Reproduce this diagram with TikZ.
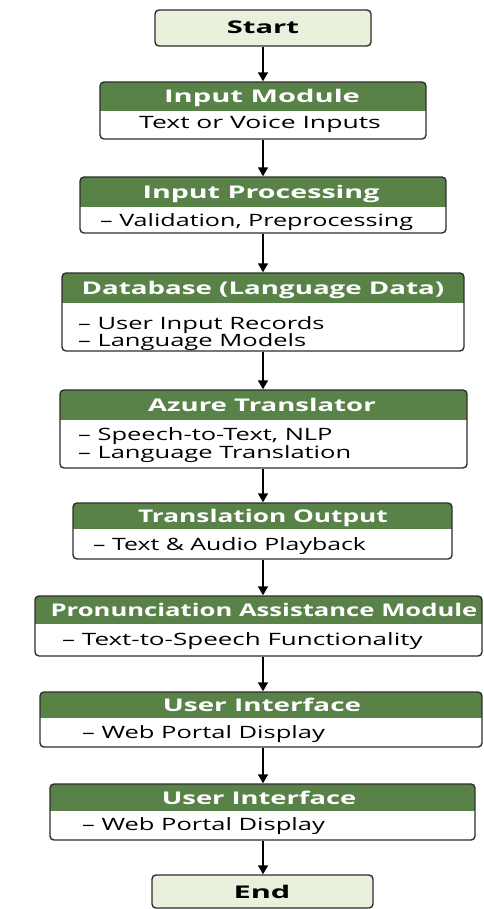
\documentclass[tikz,border=0pt]{standalone}
\usepackage{fontspec}
\setmainfont{Open Sans}[FakeStretch=1.5]
\usetikzlibrary{arrows.meta,fit}
\definecolor{hdrgreen}{RGB}{88,130,72}
\definecolor{lightfill}{RGB}{233,240,219}
\definecolor{bordercol}{RGB}{45,45,45}
\newcommand{\titlefont}{\fontsize{17.5}{21}\selectfont\bfseries}
\newcommand{\bodyfont}{\fontsize{17}{20}\selectfont}
\newcommand{\sx}[2]{\scalebox{#1}[1]{#2}}
\newcommand{\flowbox}[6]{%
  \begin{scope}
    \clip[rounded corners=4pt] (#2,#3) rectangle (#4,#5);
    \fill[hdrgreen] (#2,#3) rectangle (#4,#6);
    \fill[white] (#2,#6) rectangle (#4,#5);
  \end{scope}
  \node[boxshape, fit={(#2,#3) (#4,#5)}] (#1) {};
}
\tikzset{
  boxshape/.style={draw=bordercol, line width=1.4pt, rounded corners=4pt, inner sep=0pt, rectangle},
  termshape/.style={boxshape, fill=lightfill},
  titletext/.style={font=\titlefont, text=white, anchor=base, inner sep=0pt},
  termtext/.style={font=\titlefont, text=black, anchor=base, inner sep=0pt},
  bodytext/.style={font=\bodyfont, text=black, anchor=base west, inner sep=0pt},
  bodyc/.style={font=\bodyfont, text=black, anchor=base, inner sep=0pt},
  arr/.style={draw=black, line width=1.5pt, -{Triangle[width=10pt,length=9pt]}},
}
\begin{document}
\begin{tikzpicture}[x=1pt,y=-1pt]
\useasboundingbox (0,0) rectangle (483,909);
% Start
\node[termshape, fit={(155,10) (371,46)}] (start) {};
\node[termtext] (starttxt) at (263,34) {\sx{1.11}{Start}};
% Input Module
\flowbox{im}{100}{82}{426}{139}{111}
\node[titletext] (imt) at (262,103) {\sx{1.11}{Input Module}};
\node[bodyc] (imb) at (260,129) {\sx{1.04}{Text or Voice Inputs}};
% Input Processing
\flowbox{ip}{80}{177}{446}{233}{207}
\node[titletext] (ipt) at (261,198.5) {\sx{1.09}{Input Processing}};
\node[bodytext] (ipb) at (100,226) {\sx{0.985}{– Validation, Preprocessing}};
% Database
\flowbox{db}{62}{273}{464}{351}{303}
\node[titletext] (dbt) at (263,294.5) {\sx{1.055}{Database (Language Data)}};
\node[bodytext] (dbb1) at (78,329) {– User Input Records};
\node[bodytext] (dbb2) at (78,346) {– Language Models};
% Azure
\flowbox{az}{60}{390}{467}{468}{420}
\node[titletext] (azt) at (262,411.5) {\sx{1.05}{Azure Translator}};
\node[bodytext] (azb1) at (78,440) {– Speech-to-Text, NLP};
\node[bodytext] (azb2) at (78,458) {– Language Translation};
% Translation Output
\flowbox{to}{73}{503}{452}{559}{529}
\node[titletext] (tot) at (263,522.5) {Translation Output};
\node[bodytext] (tob) at (93,550) {\sx{0.975}{– Text \& Audio Playback}};
% Pronunciation
\flowbox{pa}{35}{596}{482}{656}{624}
\node[titletext] (pat) at (264,616.5) {\sx{0.977}{Pronunciation Assistance Module}};
\node[bodytext] (pab) at (62,645) {\sx{1.02}{– Text-to-Speech Functionality}};
% UI 1
\flowbox{ui}{40}{692}{482}{747}{718}
\node[titletext] (uit) at (262,711.5) {\sx{1.06}{User Interface}};
\node[bodytext] (uib) at (82,738) {– Web Portal Display};
% UI 2
\flowbox{uj}{50}{784}{475}{840}{811}
\node[titletext] (ujt) at (259,804) {\sx{1.04}{User Interface}};
\node[bodytext] (ujb) at (82,830) {– Web Portal Display};
% End
\node[termshape, fit={(152,875) (373,908)}] (end) {};
\node[termtext] (endtxt) at (262,898) {\sx{1.17}{End}};
% arrows
\draw[arr] (start.south -| 263,0) -- (im.north -| 263,0);
\draw[arr] (im.south -| 263,0) -- (ip.north -| 263,0);
\draw[arr] (ip.south -| 263,0) -- (db.north -| 263,0);
\draw[arr] (db.south -| 263,0) -- (az.north -| 263,0);
\draw[arr] (az.south -| 263,0) -- (to.north -| 263,0);
\draw[arr] (to.south -| 263,0) -- (pa.north -| 263,0);
\draw[arr] (pa.south -| 263,0) -- (ui.north -| 263,0);
\draw[arr] (ui.south -| 263,0) -- (uj.north -| 263,0);
\draw[arr] (uj.south -| 263,0) -- (end.north -| 263,0);
\end{tikzpicture}
\end{document}
